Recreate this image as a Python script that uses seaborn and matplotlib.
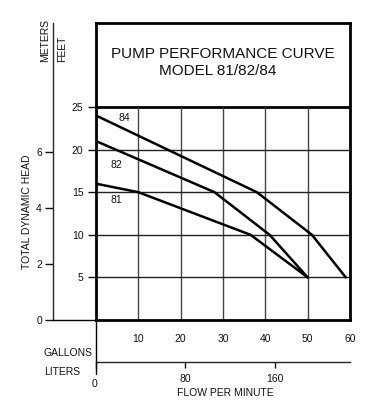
import pandas as pd
import matplotlib.pyplot as plt
import seaborn as sns

# pump curves, flow in gallons per minute vs head in feet
flow_84 = [0, 38, 51, 59]
head_84 = [24, 15, 10, 5]
flow_82 = [0, 28, 41, 50]
head_82 = [21, 15, 10, 5]
flow_81 = [0, 10, 36.5, 50]
head_81 = [16, 15, 10, 5]

gallon_ticks = [10, 20, 30, 40, 50, 60]
feet_ticks = [5, 10, 15, 20, 25]
meter_ticks = [0, 2, 4, 6]
liter_ticks = [0, 80, 160]

FT_PER_M = 3.28084
L_PER_GAL = 3.78541

df = pd.concat([
    pd.DataFrame({"gpm": flow_84, "feet": head_84, "model": "84"}),
    pd.DataFrame({"gpm": flow_82, "feet": head_82, "model": "82"}),
    pd.DataFrame({"gpm": flow_81, "feet": head_81, "model": "81"}),
])

sns.set_style("white")
plt.rcParams['font.family'] = ['Liberation Sans', 'DejaVu Sans']
plt.rcParams['text.color'] = '#111111'
plt.rcParams['xtick.color'] = '#111111'
plt.rcParams['ytick.color'] = '#111111'

W, H = 388, 417
fig = plt.figure(figsize=(W / 100, H / 100), dpi=100)


def px(x, y):
    return x / W, 1 - y / H


# main axes covers the chart area plus the title box above it
left, right, top, bottom = 96, 350, 23, 320
ax = fig.add_axes([left / W, 1 - bottom / H, (right - left) / W, (bottom - top) / H])
ft_per_px = 25 / (320 - 107)
ymax = (bottom - top) * ft_per_px
ax.set_xlim(0, 60)
ax.set_ylim(0, ymax)

for s in ax.spines.values():
    s.set_linewidth(2)
    s.set_color("black")
ax.axhline(25, color="black", lw=2)

# grid
ax.vlines(gallon_ticks[:-1], 0, 25, color="#444444", lw=1)
ax.hlines(feet_ticks[:-1], 0, 60, color="#222222", lw=1)

sns.lineplot(data=df, x="gpm", y="feet", units="model", estimator=None, sort=False,
             color="black", lw=1.8, ax=ax, legend=False)

label_pos = {"84": (6.6, 23.7), "82": (4.7, 18.2), "81": (4.9, 14.1)}
for m, (x, y) in label_pos.items():
    ax.text(x, y, m, ha="center", va="center", fontsize=7.5)

ax.set_xlabel("")
ax.set_ylabel("")

# feet axis and gallons axis
ax.set_yticks(feet_ticks)
ax.set_yticklabels([str(t) for t in feet_ticks])
ax.tick_params(axis="y", left=True, length=6, width=1, pad=3, labelsize=7.5)
ax.set_xticks(gallon_ticks)
ax.set_xticklabels([str(t) for t in gallon_ticks])
ax.tick_params(axis="x", bottom=True, length=0, pad=10, labelsize=7.5)

# meters axis
axw = right - left
axh = bottom - top
sec_y = ax.secondary_yaxis(-43 / axw, functions=(lambda f: f / FT_PER_M, lambda m: m * FT_PER_M))
sec_y.set_yticks(meter_ticks)
sec_y.tick_params(length=6, width=1, pad=2, labelsize=7.5)
sec_y.spines["left"].set_linewidth(1)
ax.plot([-43 / axw, 0], [0, 0], color="black", lw=1, transform=ax.transAxes, clip_on=False)

# liters axis
sec_x = ax.secondary_xaxis(-42 / axh, functions=(lambda g: g * L_PER_GAL, lambda l: l / L_PER_GAL))
sec_x.set_xticks(liter_ticks)
sec_x.set_xticklabels(["", "80", "160"])
sec_x.tick_params(length=4, width=1, pad=5, labelsize=7.5)
sec_x.spines["bottom"].set_linewidth(1)
ax.plot([0, 0], [0, -54 / axh], color="black", lw=1, transform=ax.transAxes, clip_on=False)

fs = 7.5
fig.text(*px(95, 384), "0", ha="center", va="center", fontsize=fs)
fig.text(*px(44, 353), "GALLONS", ha="left", va="center", fontsize=fs)
fig.text(*px(44, 372), "LITERS", ha="left", va="center", fontsize=fs)
fig.text(*px(225, 393), "FLOW PER MINUTE", ha="center", va="center", fontsize=fs)
fig.text(*px(27, 212), "TOTAL DYNAMIC HEAD", rotation=90, ha="center", va="center", fontsize=fs)
fig.text(*px(45, 62), "METERS", rotation=90, rotation_mode="anchor", ha="left", va="center", fontsize=fs)
fig.text(*px(62, 62), "FEET", rotation=90, rotation_mode="anchor", ha="left", va="center", fontsize=fs)

fig.text(*px(223, 54), "PUMP PERFORMANCE CURVE", ha="center", va="center", fontsize=11)
fig.text(*px(218, 71), "MODEL 81/82/84", ha="center", va="center", fontsize=11)

fig.savefig("out.png", dpi=100)
